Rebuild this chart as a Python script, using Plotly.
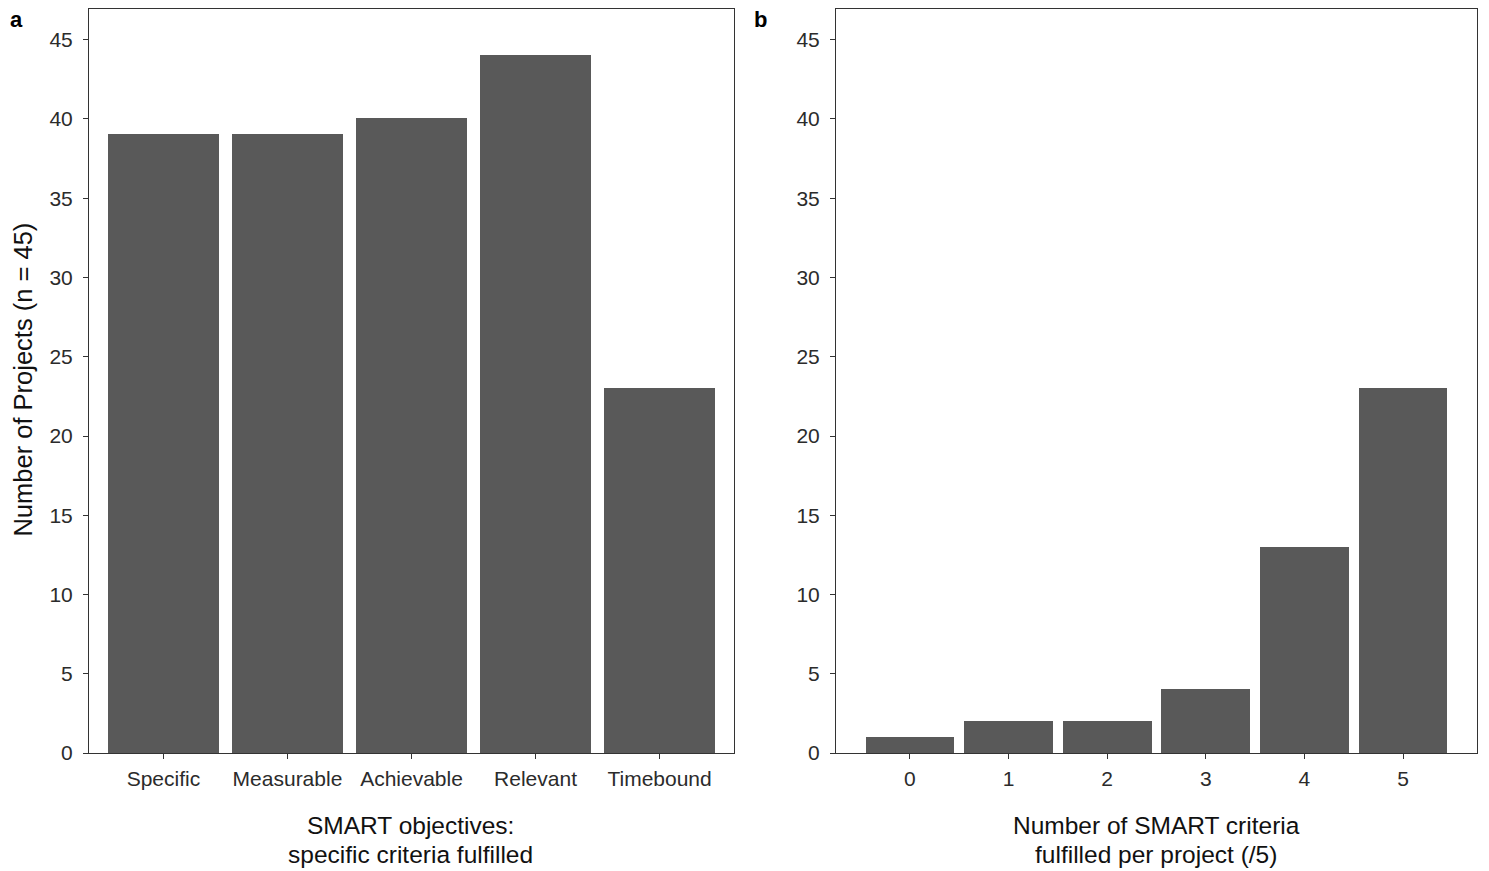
import plotly.graph_objects as go

# Panel a: projects meeting each SMART criterion
criteria = ["Specific", "Measurable", "Achievable", "Relevant", "Timebound"]
criteria_counts = [39, 39, 40, 44, 23]

# Panel b: number of SMART criteria met per project
n_criteria = [0, 1, 2, 3, 4, 5]
n_criteria_counts = [1, 2, 2, 4, 13, 23]

y_ticks = [0, 5, 10, 15, 20, 25, 30, 35, 40, 45]

W, H = 1489, 871
H_DRAW = 861  # vertical extent the figure actually occupies on the page
BAR = "#595959"
FONT = "Liberation Sans, Arial, sans-serif"


def px(x):
    return x / W


def py(y):
    return 1 - y / H_DRAW


fig = go.Figure()
fig.add_trace(go.Bar(x=criteria, y=criteria_counts, width=0.9,
                     marker=dict(color=BAR, line=dict(width=0)),
                     xaxis="x", yaxis="y", showlegend=False))
fig.add_trace(go.Bar(x=n_criteria, y=n_criteria_counts, width=0.9,
                     marker=dict(color=BAR, line=dict(width=0)),
                     xaxis="x2", yaxis="y2", showlegend=False))

axis_common = dict(
    showline=True, linecolor="#333333", linewidth=1, mirror=True,
    ticks="outside", ticklen=5, tickwidth=1, tickcolor="#333333",
    showgrid=False, zeroline=False,
    tickfont=dict(family=FONT, size=21, color="#2b2b2b"),
)

y_dom = [py(754), py(9.5)]

fig.update_layout(
    width=W, height=H,
    margin=dict(l=0, r=0, t=0, b=0),
    paper_bgcolor="white", plot_bgcolor="white",
    bargap=0,
    font=dict(family=FONT),
    xaxis=dict(domain=[px(89), px(734)], range=[-0.6, 4.6], anchor="y",
               ticklabelstandoff=2, **axis_common),
    yaxis=dict(domain=y_dom, range=[0, 46.9], tickvals=y_ticks, anchor="x",
               ticklabelstandoff=6, **axis_common),
    xaxis2=dict(domain=[px(836), px(1477)], range=[-0.75, 5.75], tickvals=n_criteria,
                anchor="y2", ticklabelstandoff=2, **axis_common),
    yaxis2=dict(domain=y_dom, range=[0, 46.9], tickvals=y_ticks, anchor="x2",
                ticklabelstandoff=6, **axis_common),
)

title_font = dict(family=FONT, size=24.5, color="#111111")
ann = []
# y-axis title (panel a only)
ann.append(dict(text="Number of Projects (n = 45)", textangle=-90,
                x=px(23), y=py(380), xref="paper", yref="paper",
                xanchor="center", yanchor="middle", showarrow=False,
                font=dict(family=FONT, size=25.5, color="#111111")))
# x-axis titles, two lines each
for cx, lines in [(411, ["SMART objectives:", "specific criteria fulfilled"]),
                  (1156, ["Number of SMART criteria", "fulfilled per project (/5)"])]:
    for ly, txt in zip([826, 855], lines):
        ann.append(dict(text=txt, x=px(cx), y=py(ly), xref="paper", yref="paper",
                        xanchor="center", yanchor="middle", showarrow=False,
                        font=title_font))
# panel tags
for tx, tag in [(16, "a"), (760, "b")]:
    ann.append(dict(text="<b>%s</b>" % tag, x=px(tx), y=py(20), xref="paper", yref="paper",
                    xanchor="center", yanchor="middle", showarrow=False,
                    font=dict(family=FONT, size=22, color="#000000")))
fig.update_layout(annotations=ann)

fig.write_html("out.html")
